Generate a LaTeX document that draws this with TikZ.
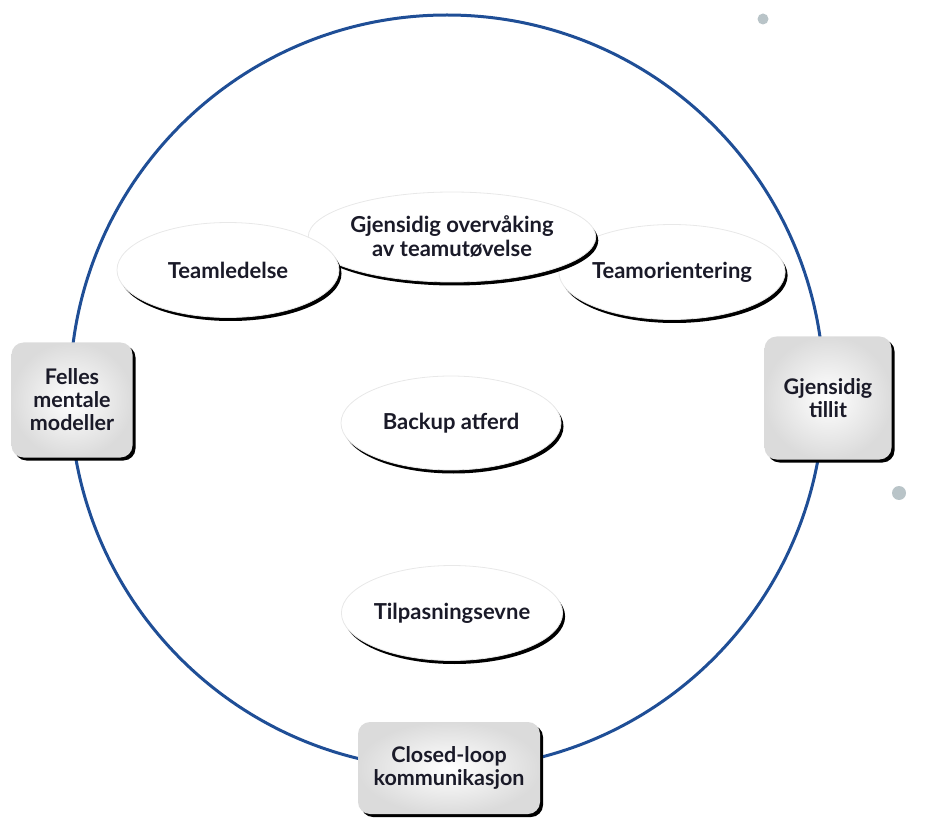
\documentclass[tikz,border=0pt]{standalone}
\usepackage{fontspec}
\setmainfont{Lato}
\usetikzlibrary{shapes.geometric,shadows}
\definecolor{ringblue}{HTML}{1F4E96}
\definecolor{txt}{HTML}{1A1A28}
\definecolor{dotgray}{HTML}{B9C4C8}
\tikzset{
  oval/.style={ellipse, inner sep=0pt, fill=white, draw=gray!18, line width=0.8pt,
    drop shadow={shadow xshift=2.5pt, shadow yshift=-3.5pt, fill=black, opacity=1},
    text=txt, align=center, font=\fontsize{22}{24}\selectfont\bfseries},
  sqbox/.style={rectangle, rounded corners=12pt, inner sep=0pt,
    shading=radial, inner color=white, outer color=gray!28,
    drop shadow={shadow xshift=3pt, shadow yshift=-3pt, fill=black, opacity=1},
    text=txt, align=center, font=\fontsize{21.5}{23}\selectfont\bfseries},
  ring/.style={circle, draw=ringblue, line width=3pt, inner sep=0pt},
  speck/.style={circle, fill=dotgray, inner sep=0pt}
}
\begin{document}
\begin{tikzpicture}[x=1pt,y=-1pt]
\useasboundingbox (0,0) rectangle (943,826);
\node[ring, minimum size=754pt] (ring) at (447,392) {};
\node[speck, minimum size=11pt] (speckA) at (763,19) {};
\node[speck, minimum size=14pt] (speckB) at (899,493) {};

\node[oval, minimum width=225pt, minimum height=95pt] (orient) at (672,272) {Teamorientering};
\node[oval, minimum width=222pt, minimum height=90pt] (monitor) at (452,237) {Gjensidig overvåking\\av teamutøvelse};
\node[oval, minimum width=222pt, minimum height=95pt] (lead) at (228,270) {Teamledelse};
\node[oval, minimum width=220pt, minimum height=94pt] (backup) at (451,423) {Backup atferd};
\node[oval, minimum width=215pt, minimum height=95pt] (adapt) at (452,613) {Tilpasningsevne};

\node[sqbox, minimum width=121pt, minimum height=115pt] (models) at (72,400) {Felles\\mentale\\modeller};
\node[sqbox, minimum width=127pt, minimum height=123pt] (trust) at (828,398) {Gjensidig\\tillit};
\node[sqbox, minimum width=182pt, minimum height=92pt] (loop) at (449,768) {Closed-loop\\kommunikasjon};
\end{tikzpicture}
\end{document}
